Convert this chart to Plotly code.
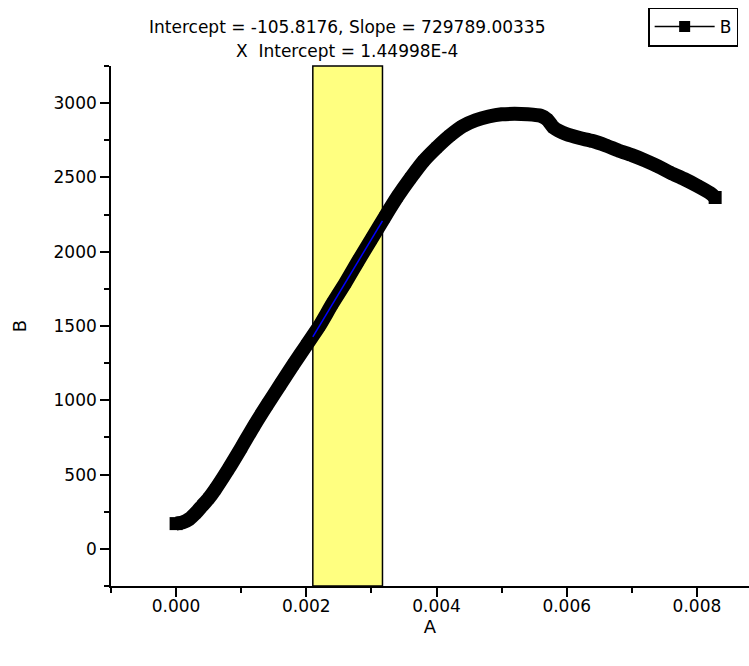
import plotly.graph_objects as go

# Data
A = [0.0, 0.0001, 0.0002, 0.0003, 0.0004, 0.0005, 0.0006, 0.0008, 0.001, 0.0012,
     0.0014, 0.0016, 0.0018, 0.002, 0.0022, 0.0024, 0.0026, 0.0028, 0.003, 0.0032,
     0.0034, 0.0036, 0.0038, 0.004, 0.0042, 0.0044, 0.0046, 0.0048, 0.005, 0.0052,
     0.0054, 0.0056, 0.0057, 0.0058, 0.006, 0.0062, 0.0064, 0.0066, 0.0068, 0.007,
     0.0072, 0.0074, 0.0076, 0.0078, 0.008, 0.0082, 0.00828]
B = [170, 178, 200, 240, 290, 340, 400, 535, 680, 830,
     970, 1105, 1240, 1370, 1500, 1650, 1790, 1940, 2085, 2230,
     2370, 2495, 2610, 2700, 2780, 2845, 2885, 2910, 2925, 2928,
     2925, 2915, 2890, 2835, 2790, 2765, 2745, 2715, 2680, 2650,
     2615, 2575, 2530, 2490, 2445, 2395, 2365]

fit_intercept = -105.8176
fit_slope = 729789.00335
x_intercept = "1.44998E-4"
fit_range = [0.0021, 0.00317]

x_ticks = [0.0, 0.002, 0.004, 0.006, 0.008]
y_ticks = [0, 500, 1000, 1500, 2000, 2500, 3000]

FONT = "DejaVu Sans"

fig = go.Figure()

fig.add_shape(type="rect", xref="x", yref="paper",
              x0=fit_range[0], x1=fit_range[1], y0=0, y1=1,
              fillcolor="#FFFF80", line=dict(color="black", width=1.5),
              layer="below")

marker_sizes = [10] * len(A)
marker_sizes[0] = 13
marker_sizes[-1] = 13

fig.add_trace(go.Scatter(
    x=A, y=B, mode="lines+markers",
    line=dict(color="black", width=14, shape="spline", smoothing=0.6),
    marker=dict(symbol="square", size=marker_sizes, color="black",
                opacity=1, line=dict(width=0, color="black")),
    showlegend=False, hoverinfo="skip"))

fit_x = fit_range
fit_y = [fit_intercept + fit_slope * v for v in fit_x]
fig.add_trace(go.Scatter(
    x=fit_x, y=fit_y, mode="lines",
    line=dict(color="#0000FF", width=1.5),
    showlegend=False))

# legend-only entry
fig.add_trace(go.Scatter(
    x=[None], y=[None], mode="lines+markers", name="B",
    line=dict(color="black", width=1.5),
    marker=dict(symbol="square", size=11, color="black")))

fig.add_annotation(xref="paper", yref="paper", x=0.37, y=1.0755,
                   text=f"Intercept = {fit_intercept}, Slope = {fit_slope}",
                   showarrow=False, font=dict(family=FONT, size=17, color="black"),
                   xanchor="center", yanchor="middle")
fig.add_annotation(xref="paper", yref="paper", x=0.37, y=1.0295,
                   text=f"X  Intercept = {x_intercept}",
                   showarrow=False, font=dict(family=FONT, size=17, color="black"),
                   xanchor="center", yanchor="middle")

fig.update_layout(
    width=749, height=666,
    margin=dict(l=111, r=0, t=66, b=79.5, pad=0),
    paper_bgcolor="white", plot_bgcolor="white",
    font=dict(family=FONT, size=17, color="black"),
    legend=dict(x=0.983, y=1.1125, xanchor="right", yanchor="top",
                bordercolor="black", borderwidth=1.5, bgcolor="white",
                font=dict(family=FONT, size=17, color="black"),
                itemwidth=60, tracegroupgap=0),
    xaxis=dict(range=[-0.001, 0.0088], tickvals=x_ticks, tickformat=".3f",
               showgrid=False, zeroline=False, showline=True, linecolor="black",
               linewidth=1.6, ticks="outside", ticklen=9, tickwidth=1.6,
               tickcolor="black", ticklabelstandoff=-5,
               minor=dict(dtick=0.001, tick0=-0.001, ticks="outside", ticklen=5,
                          tickwidth=1.6, tickcolor="black", showgrid=False),
               title=dict(text="A", standoff=4, font=dict(size=18))),
    yaxis=dict(range=[-250, 3250], tickvals=y_ticks,
               showgrid=False, zeroline=False, showline=True, linecolor="black",
               linewidth=1.6, ticks="outside", ticklen=9, tickwidth=1.6,
               tickcolor="black",
               minor=dict(dtick=250, tick0=0, ticks="outside", ticklen=5,
                          tickwidth=1.6, tickcolor="black", showgrid=False),
               title=dict(text="B", standoff=22, font=dict(size=18))),
)

fig.write_html("out.html")
